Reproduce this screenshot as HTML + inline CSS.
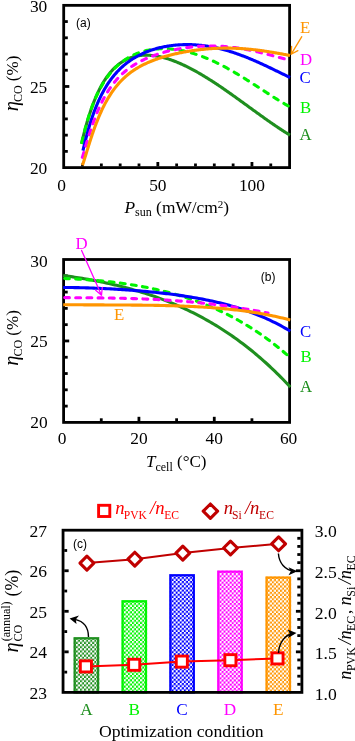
<!DOCTYPE html>
<html><head><meta charset="utf-8"><title>Figure</title>
<style>html,body{margin:0;padding:0;background:#fff}svg{display:block}</style></head>
<body><svg width="355" height="741" viewBox="0 0 355 741">
<rect width="355" height="741" fill="#fff"/>
<rect x="63.7" y="5.35" width="225.90000000000003" height="162.25" fill="none" stroke="#000" stroke-width="2.8"/>
<line x1="82.53" y1="166.39999999999998" x2="82.53" y2="163.49999999999997" stroke="#000" stroke-width="2.8"/>
<line x1="101.35" y1="166.39999999999998" x2="101.35" y2="163.49999999999997" stroke="#000" stroke-width="2.8"/>
<line x1="120.18" y1="166.39999999999998" x2="120.18" y2="163.49999999999997" stroke="#000" stroke-width="2.8"/>
<line x1="139.00" y1="166.39999999999998" x2="139.00" y2="163.49999999999997" stroke="#000" stroke-width="2.8"/>
<line x1="176.65" y1="166.39999999999998" x2="176.65" y2="163.49999999999997" stroke="#000" stroke-width="2.8"/>
<line x1="195.48" y1="166.39999999999998" x2="195.48" y2="163.49999999999997" stroke="#000" stroke-width="2.8"/>
<line x1="214.30" y1="166.39999999999998" x2="214.30" y2="163.49999999999997" stroke="#000" stroke-width="2.8"/>
<line x1="233.13" y1="166.39999999999998" x2="233.13" y2="163.49999999999997" stroke="#000" stroke-width="2.8"/>
<line x1="270.78" y1="166.39999999999998" x2="270.78" y2="163.49999999999997" stroke="#000" stroke-width="2.8"/>
<line x1="157.83" y1="166.39999999999998" x2="157.83" y2="161.99999999999997" stroke="#000" stroke-width="2.8"/>
<line x1="251.95" y1="166.39999999999998" x2="251.95" y2="161.99999999999997" stroke="#000" stroke-width="2.8"/>
<line x1="64.9" y1="151.38" x2="67.80000000000001" y2="151.38" stroke="#000" stroke-width="2.8"/>
<line x1="64.9" y1="135.15" x2="67.80000000000001" y2="135.15" stroke="#000" stroke-width="2.8"/>
<line x1="64.9" y1="118.92" x2="67.80000000000001" y2="118.92" stroke="#000" stroke-width="2.8"/>
<line x1="64.9" y1="102.70" x2="67.80000000000001" y2="102.70" stroke="#000" stroke-width="2.8"/>
<line x1="64.9" y1="70.25" x2="67.80000000000001" y2="70.25" stroke="#000" stroke-width="2.8"/>
<line x1="64.9" y1="54.02" x2="67.80000000000001" y2="54.02" stroke="#000" stroke-width="2.8"/>
<line x1="64.9" y1="37.80" x2="67.80000000000001" y2="37.80" stroke="#000" stroke-width="2.8"/>
<line x1="64.9" y1="21.57" x2="67.80000000000001" y2="21.57" stroke="#000" stroke-width="2.8"/>
<line x1="64.9" y1="86.47" x2="69.30000000000001" y2="86.47" stroke="#000" stroke-width="2.8"/>
<path d="M81.45,143.90 L81.76,142.56 L82.08,141.24 L82.39,139.93 L82.71,138.64 L83.02,137.36 L83.34,136.09 L83.65,134.84 L83.97,133.60 L84.28,132.38 L84.59,131.18 L84.91,129.99 L85.22,128.81 L85.54,127.65 L85.85,126.50 L86.17,125.37 L86.48,124.25 L86.79,123.15 L87.11,122.06 L87.42,120.99 L87.74,119.93 L88.05,118.89 L88.37,117.86 L88.68,116.84 L89.00,115.84 L89.31,114.85 L89.62,113.87 L89.94,112.91 L90.25,111.96 L90.57,111.03 L90.88,110.10 L91.20,109.19 L91.51,108.30 L91.83,107.41 L92.14,106.54 L92.45,105.68 L92.77,104.83 L93.08,103.99 L93.40,103.17 L93.71,102.36 L94.03,101.55 L94.34,100.76 L94.66,99.99 L94.97,99.22 L95.28,98.46 L95.60,97.71 L95.91,96.98 L96.23,96.25 L96.54,95.53 L96.86,94.83 L97.17,94.13 L97.48,93.45 L97.80,92.77 L98.11,92.11 L98.43,91.45 L98.74,90.80 L99.06,90.16 L99.37,89.53 L99.69,88.91 L100.00,88.30 L100.95,86.50 L101.91,84.77 L102.86,83.12 L103.82,81.54 L104.77,80.03 L105.73,78.58 L106.68,77.20 L107.64,75.88 L108.59,74.62 L109.55,73.41 L110.50,72.26 L111.46,71.16 L112.41,70.11 L113.37,69.11 L114.32,68.15 L115.28,67.24 L116.23,66.38 L117.19,65.56 L118.14,64.77 L119.10,64.03 L120.05,63.33 L121.01,62.66 L121.96,62.03 L122.91,61.43 L123.87,60.87 L124.82,60.33 L125.78,59.83 L126.73,59.36 L127.69,58.92 L128.64,58.51 L129.60,58.13 L130.55,57.77 L131.51,57.44 L132.46,57.14 L133.42,56.85 L134.37,56.60 L135.33,56.36 L136.28,56.15 L137.24,55.97 L138.19,55.80 L139.15,55.65 L140.10,55.53 L141.06,55.42 L142.01,55.33 L142.96,55.26 L143.92,55.22 L144.87,55.18 L145.83,55.17 L146.78,55.17 L147.74,55.19 L148.69,55.23 L149.65,55.28 L150.60,55.35 L151.56,55.43 L152.51,55.52 L153.47,55.64 L154.42,55.76 L155.38,55.90 L156.33,56.05 L157.29,56.22 L158.24,56.40 L159.20,56.59 L160.15,56.79 L161.11,57.01 L162.06,57.24 L163.02,57.48 L163.97,57.73 L164.92,57.99 L165.88,58.26 L166.83,58.55 L167.79,58.84 L168.74,59.15 L169.70,59.46 L170.65,59.79 L171.61,60.12 L172.56,60.47 L173.52,60.82 L174.47,61.18 L175.43,61.55 L176.38,61.93 L177.34,62.32 L178.29,62.72 L179.25,63.12 L180.20,63.54 L181.16,63.96 L182.11,64.39 L183.07,64.83 L184.02,65.27 L184.97,65.73 L185.93,66.19 L186.88,66.65 L187.84,67.13 L188.79,67.61 L189.75,68.10 L190.70,68.59 L191.66,69.09 L192.61,69.60 L193.57,70.11 L194.52,70.63 L195.48,71.16 L196.43,71.69 L197.39,72.23 L198.34,72.77 L199.30,73.32 L200.25,73.87 L201.21,74.43 L202.16,75.00 L203.12,75.57 L204.07,76.14 L205.03,76.72 L205.98,77.31 L206.93,77.90 L207.89,78.49 L208.84,79.09 L209.80,79.69 L210.75,80.30 L211.71,80.91 L212.66,81.53 L213.62,82.15 L214.57,82.77 L215.53,83.40 L216.48,84.03 L217.44,84.66 L218.39,85.30 L219.35,85.94 L220.30,86.59 L221.26,87.24 L222.21,87.89 L223.17,88.54 L224.12,89.20 L225.08,89.86 L226.03,90.52 L226.98,91.19 L227.94,91.85 L228.89,92.52 L229.85,93.19 L230.80,93.87 L231.76,94.54 L232.71,95.22 L233.67,95.90 L234.62,96.58 L235.58,97.27 L236.53,97.95 L237.49,98.64 L238.44,99.32 L239.40,100.01 L240.35,100.70 L241.31,101.39 L242.26,102.09 L243.22,102.78 L244.17,103.47 L245.13,104.16 L246.08,104.86 L247.04,105.55 L247.99,106.25 L248.94,106.94 L249.90,107.64 L250.85,108.33 L251.81,109.02 L252.76,109.72 L253.72,110.41 L254.67,111.10 L255.63,111.80 L256.58,112.49 L257.54,113.18 L258.49,113.87 L259.45,114.55 L260.40,115.24 L261.36,115.93 L262.31,116.61 L263.27,117.29 L264.22,117.97 L265.18,118.65 L266.13,119.32 L267.09,120.00 L268.04,120.67 L268.99,121.34 L269.95,122.00 L270.90,122.67 L271.86,123.33 L272.81,123.98 L273.77,124.64 L274.72,125.29 L275.68,125.94 L276.63,126.58 L277.59,127.22 L278.54,127.86 L279.50,128.49 L280.45,129.12 L281.41,129.74 L282.36,130.36 L283.32,130.97 L284.27,131.58 L285.23,132.19 L286.18,132.79 L287.14,133.38 L288.09,133.97 L289.05,134.56 L290.00,135.13" fill="none" stroke="#1f8f1f" stroke-width="3.1" stroke-linejoin="round"/>
<path d="M81.90,142.59 L82.21,141.19 L82.51,139.81 L82.82,138.46 L83.13,137.13 L83.43,135.82 L83.74,134.54 L84.05,133.28 L84.35,132.04 L84.66,130.81 L84.97,129.61 L85.27,128.43 L85.58,127.27 L85.89,126.13 L86.19,125.01 L86.50,123.90 L86.81,122.82 L87.12,121.75 L87.42,120.69 L87.73,119.66 L88.04,118.64 L88.34,117.64 L88.65,116.65 L88.96,115.68 L89.26,114.72 L89.57,113.78 L89.88,112.85 L90.18,111.94 L90.49,111.04 L90.80,110.15 L91.10,109.28 L91.41,108.42 L91.72,107.57 L92.02,106.74 L92.33,105.92 L92.64,105.11 L92.94,104.31 L93.25,103.53 L93.56,102.75 L93.86,101.99 L94.17,101.24 L94.48,100.49 L94.78,99.76 L95.09,99.04 L95.40,98.33 L95.71,97.63 L96.01,96.94 L96.32,96.26 L96.63,95.59 L96.93,94.93 L97.24,94.28 L97.55,93.63 L97.85,93.00 L98.16,92.37 L98.47,91.75 L98.77,91.15 L99.08,90.54 L99.39,89.95 L99.69,89.37 L100.00,88.79 L100.95,87.06 L101.89,85.40 L102.84,83.80 L103.78,82.27 L104.73,80.80 L105.67,79.39 L106.62,78.03 L107.57,76.72 L108.51,75.46 L109.46,74.25 L110.40,73.09 L111.35,71.97 L112.29,70.89 L113.24,69.86 L114.19,68.86 L115.13,67.89 L116.08,66.97 L117.02,66.08 L117.97,65.22 L118.91,64.39 L119.86,63.59 L120.81,62.83 L121.75,62.09 L122.70,61.38 L123.64,60.70 L124.59,60.04 L125.53,59.41 L126.48,58.80 L127.43,58.22 L128.37,57.65 L129.32,57.11 L130.26,56.60 L131.21,56.10 L132.15,55.62 L133.10,55.17 L134.05,54.73 L134.99,54.31 L135.94,53.91 L136.88,53.53 L137.83,53.16 L138.77,52.81 L139.72,52.48 L140.67,52.17 L141.61,51.87 L142.56,51.58 L143.50,51.31 L144.45,51.06 L145.39,50.82 L146.34,50.59 L147.29,50.38 L148.23,50.18 L149.18,50.00 L150.12,49.83 L151.07,49.67 L152.02,49.53 L152.96,49.39 L153.91,49.27 L154.85,49.17 L155.80,49.07 L156.74,48.99 L157.69,48.91 L158.64,48.85 L159.58,48.80 L160.53,48.77 L161.47,48.74 L162.42,48.72 L163.36,48.72 L164.31,48.72 L165.26,48.74 L166.20,48.76 L167.15,48.80 L168.09,48.85 L169.04,48.90 L169.98,48.97 L170.93,49.04 L171.88,49.13 L172.82,49.23 L173.77,49.33 L174.71,49.45 L175.66,49.57 L176.60,49.70 L177.55,49.85 L178.50,50.00 L179.44,50.16 L180.39,50.33 L181.33,50.50 L182.28,50.69 L183.22,50.89 L184.17,51.09 L185.12,51.30 L186.06,51.52 L187.01,51.75 L187.95,51.99 L188.90,52.24 L189.84,52.49 L190.79,52.75 L191.74,53.02 L192.68,53.30 L193.63,53.59 L194.57,53.88 L195.52,54.18 L196.46,54.49 L197.41,54.81 L198.36,55.13 L199.30,55.47 L200.25,55.81 L201.19,56.15 L202.14,56.51 L203.08,56.87 L204.03,57.23 L204.98,57.61 L205.92,57.99 L206.87,58.38 L207.81,58.77 L208.76,59.18 L209.70,59.58 L210.65,60.00 L211.60,60.42 L212.54,60.85 L213.49,61.28 L214.43,61.72 L215.38,62.17 L216.32,62.62 L217.27,63.08 L218.22,63.55 L219.16,64.02 L220.11,64.49 L221.05,64.97 L222.00,65.46 L222.94,65.95 L223.89,66.45 L224.84,66.96 L225.78,67.46 L226.73,67.98 L227.67,68.49 L228.62,69.02 L229.56,69.54 L230.51,70.08 L231.46,70.61 L232.40,71.16 L233.35,71.70 L234.29,72.25 L235.24,72.80 L236.18,73.36 L237.13,73.92 L238.08,74.49 L239.02,75.06 L239.97,75.63 L240.91,76.20 L241.86,76.78 L242.81,77.37 L243.75,77.95 L244.70,78.54 L245.64,79.13 L246.59,79.72 L247.53,80.32 L248.48,80.91 L249.43,81.51 L250.37,82.12 L251.32,82.72 L252.26,83.33 L253.21,83.93 L254.15,84.54 L255.10,85.15 L256.05,85.76 L256.99,86.37 L257.94,86.99 L258.88,87.60 L259.83,88.22 L260.77,88.83 L261.72,89.44 L262.67,90.06 L263.61,90.67 L264.56,91.29 L265.50,91.90 L266.45,92.51 L267.39,93.13 L268.34,93.74 L269.29,94.35 L270.23,94.96 L271.18,95.56 L272.12,96.17 L273.07,96.77 L274.01,97.37 L274.96,97.97 L275.91,98.57 L276.85,99.16 L277.80,99.75 L278.74,100.34 L279.69,100.92 L280.63,101.50 L281.58,102.08 L282.53,102.65 L283.47,103.22 L284.42,103.78 L285.36,104.34 L286.31,104.90 L287.25,105.45 L288.20,105.99" fill="none" stroke="#00f400" stroke-width="3.1" stroke-dasharray="5.000 6.755" stroke-linecap="round" stroke-linejoin="round"/>
<path d="M82.95,150.70 L83.24,149.44 L83.53,148.19 L83.82,146.96 L84.11,145.75 L84.39,144.54 L84.68,143.36 L84.97,142.19 L85.26,141.03 L85.55,139.89 L85.84,138.76 L86.13,137.64 L86.42,136.54 L86.71,135.45 L87.00,134.38 L87.28,133.32 L87.57,132.27 L87.86,131.24 L88.15,130.22 L88.44,129.22 L88.73,128.22 L89.02,127.24 L89.31,126.27 L89.60,125.32 L89.89,124.37 L90.17,123.44 L90.46,122.52 L90.75,121.61 L91.04,120.71 L91.33,119.83 L91.62,118.96 L91.91,118.09 L92.20,117.24 L92.49,116.40 L92.78,115.57 L93.06,114.75 L93.35,113.94 L93.64,113.14 L93.93,112.35 L94.22,111.57 L94.51,110.80 L94.80,110.04 L95.09,109.29 L95.38,108.55 L95.67,107.82 L95.95,107.10 L96.24,106.38 L96.53,105.68 L96.82,104.98 L97.11,104.30 L97.40,103.62 L97.69,102.95 L97.98,102.28 L98.27,101.63 L98.56,100.98 L98.84,100.34 L99.13,99.71 L99.42,99.09 L99.71,98.47 L100.00,97.87 L100.95,95.91 L101.91,94.03 L102.86,92.22 L103.82,90.47 L104.77,88.80 L105.73,87.19 L106.68,85.63 L107.64,84.14 L108.59,82.70 L109.55,81.31 L110.50,79.97 L111.46,78.68 L112.41,77.43 L113.37,76.23 L114.32,75.07 L115.28,73.95 L116.23,72.87 L117.19,71.82 L118.14,70.81 L119.10,69.84 L120.05,68.89 L121.01,67.98 L121.96,67.10 L122.91,66.24 L123.87,65.42 L124.82,64.62 L125.78,63.84 L126.73,63.09 L127.69,62.37 L128.64,61.67 L129.60,60.99 L130.55,60.33 L131.51,59.69 L132.46,59.07 L133.42,58.47 L134.37,57.89 L135.33,57.33 L136.28,56.78 L137.24,56.26 L138.19,55.75 L139.15,55.25 L140.10,54.77 L141.06,54.30 L142.01,53.85 L142.96,53.42 L143.92,52.99 L144.87,52.59 L145.83,52.19 L146.78,51.81 L147.74,51.44 L148.69,51.08 L149.65,50.73 L150.60,50.39 L151.56,50.07 L152.51,49.76 L153.47,49.46 L154.42,49.17 L155.38,48.88 L156.33,48.61 L157.29,48.35 L158.24,48.10 L159.20,47.86 L160.15,47.63 L161.11,47.41 L162.06,47.20 L163.02,46.99 L163.97,46.80 L164.92,46.61 L165.88,46.44 L166.83,46.27 L167.79,46.11 L168.74,45.96 L169.70,45.81 L170.65,45.68 L171.61,45.55 L172.56,45.43 L173.52,45.32 L174.47,45.22 L175.43,45.13 L176.38,45.04 L177.34,44.96 L178.29,44.89 L179.25,44.83 L180.20,44.77 L181.16,44.72 L182.11,44.68 L183.07,44.65 L184.02,44.62 L184.97,44.60 L185.93,44.59 L186.88,44.59 L187.84,44.59 L188.79,44.60 L189.75,44.62 L190.70,44.64 L191.66,44.67 L192.61,44.71 L193.57,44.76 L194.52,44.81 L195.48,44.87 L196.43,44.94 L197.39,45.01 L198.34,45.09 L199.30,45.18 L200.25,45.27 L201.21,45.37 L202.16,45.48 L203.12,45.59 L204.07,45.72 L205.03,45.84 L205.98,45.98 L206.93,46.12 L207.89,46.27 L208.84,46.42 L209.80,46.58 L210.75,46.75 L211.71,46.93 L212.66,47.11 L213.62,47.29 L214.57,47.49 L215.53,47.69 L216.48,47.89 L217.44,48.10 L218.39,48.32 L219.35,48.55 L220.30,48.78 L221.26,49.02 L222.21,49.26 L223.17,49.51 L224.12,49.76 L225.08,50.03 L226.03,50.29 L226.98,50.57 L227.94,50.85 L228.89,51.13 L229.85,51.42 L230.80,51.72 L231.76,52.02 L232.71,52.32 L233.67,52.64 L234.62,52.95 L235.58,53.28 L236.53,53.61 L237.49,53.94 L238.44,54.28 L239.40,54.62 L240.35,54.97 L241.31,55.33 L242.26,55.68 L243.22,56.05 L244.17,56.42 L245.13,56.79 L246.08,57.17 L247.04,57.55 L247.99,57.93 L248.94,58.32 L249.90,58.72 L250.85,59.12 L251.81,59.52 L252.76,59.93 L253.72,60.34 L254.67,60.75 L255.63,61.17 L256.58,61.59 L257.54,62.01 L258.49,62.44 L259.45,62.87 L260.40,63.30 L261.36,63.74 L262.31,64.18 L263.27,64.62 L264.22,65.06 L265.18,65.51 L266.13,65.96 L267.09,66.41 L268.04,66.86 L268.99,67.32 L269.95,67.77 L270.90,68.23 L271.86,68.69 L272.81,69.15 L273.77,69.61 L274.72,70.07 L275.68,70.54 L276.63,71.00 L277.59,71.47 L278.54,71.93 L279.50,72.40 L280.45,72.86 L281.41,73.33 L282.36,73.79 L283.32,74.26 L284.27,74.72 L285.23,75.18 L286.18,75.64 L287.14,76.10 L288.09,76.56 L289.05,77.02 L290.00,77.48" fill="none" stroke="#0000ff" stroke-width="3.1" stroke-linejoin="round"/>
<path d="M82.37,157.31 L82.67,156.34 L82.97,155.35 L83.27,154.36 L83.57,153.36 L83.86,152.36 L84.16,151.35 L84.46,150.34 L84.76,149.33 L85.06,148.32 L85.36,147.31 L85.66,146.30 L85.96,145.29 L86.25,144.29 L86.55,143.29 L86.85,142.30 L87.15,141.31 L87.45,140.32 L87.75,139.34 L88.05,138.37 L88.35,137.40 L88.65,136.44 L88.94,135.49 L89.24,134.54 L89.54,133.60 L89.84,132.67 L90.14,131.75 L90.44,130.84 L90.74,129.93 L91.04,129.03 L91.33,128.14 L91.63,127.26 L91.93,126.38 L92.23,125.52 L92.53,124.66 L92.83,123.81 L93.13,122.98 L93.43,122.15 L93.72,121.32 L94.02,120.51 L94.32,119.71 L94.62,118.91 L94.92,118.12 L95.22,117.34 L95.52,116.57 L95.82,115.81 L96.12,115.06 L96.41,114.31 L96.71,113.58 L97.01,112.85 L97.31,112.13 L97.61,111.41 L97.91,110.71 L98.21,110.02 L98.51,109.33 L98.80,108.65 L99.10,107.98 L99.40,107.31 L99.70,106.65 L100.00,106.01 L100.93,104.04 L101.85,102.15 L102.78,100.33 L103.70,98.57 L104.63,96.87 L105.55,95.24 L106.48,93.66 L107.41,92.14 L108.33,90.68 L109.26,89.26 L110.18,87.90 L111.11,86.59 L112.03,85.32 L112.96,84.09 L113.88,82.91 L114.81,81.77 L115.74,80.67 L116.66,79.60 L117.59,78.58 L118.51,77.58 L119.44,76.62 L120.36,75.69 L121.29,74.80 L122.22,73.93 L123.14,73.09 L124.07,72.27 L124.99,71.48 L125.92,70.72 L126.84,69.98 L127.77,69.26 L128.69,68.57 L129.62,67.89 L130.55,67.24 L131.47,66.60 L132.40,65.99 L133.32,65.39 L134.25,64.81 L135.17,64.24 L136.10,63.69 L137.03,63.16 L137.95,62.64 L138.88,62.13 L139.80,61.64 L140.73,61.16 L141.65,60.69 L142.58,60.24 L143.50,59.79 L144.43,59.36 L145.36,58.94 L146.28,58.53 L147.21,58.13 L148.13,57.74 L149.06,57.36 L149.98,56.99 L150.91,56.63 L151.84,56.27 L152.76,55.92 L153.69,55.59 L154.61,55.26 L155.54,54.93 L156.46,54.62 L157.39,54.31 L158.31,54.01 L159.24,53.72 L160.17,53.43 L161.09,53.15 L162.02,52.88 L162.94,52.61 L163.87,52.35 L164.79,52.09 L165.72,51.84 L166.65,51.60 L167.57,51.36 L168.50,51.13 L169.42,50.91 L170.35,50.69 L171.27,50.47 L172.20,50.26 L173.12,50.06 L174.05,49.86 L174.98,49.66 L175.90,49.47 L176.83,49.29 L177.75,49.11 L178.68,48.94 L179.60,48.77 L180.53,48.61 L181.46,48.45 L182.38,48.29 L183.31,48.15 L184.23,48.00 L185.16,47.86 L186.08,47.73 L187.01,47.60 L187.93,47.48 L188.86,47.36 L189.79,47.24 L190.71,47.14 L191.64,47.03 L192.56,46.93 L193.49,46.84 L194.41,46.75 L195.34,46.66 L196.27,46.58 L197.19,46.51 L198.12,46.44 L199.04,46.37 L199.97,46.31 L200.89,46.26 L201.82,46.20 L202.74,46.16 L203.67,46.12 L204.60,46.08 L205.52,46.05 L206.45,46.03 L207.37,46.00 L208.30,45.99 L209.22,45.98 L210.15,45.97 L211.08,45.97 L212.00,45.97 L212.93,45.98 L213.85,46.00 L214.78,46.01 L215.70,46.04 L216.63,46.07 L217.55,46.10 L218.48,46.14 L219.41,46.18 L220.33,46.23 L221.26,46.28 L222.18,46.34 L223.11,46.40 L224.03,46.47 L224.96,46.54 L225.89,46.62 L226.81,46.70 L227.74,46.79 L228.66,46.88 L229.59,46.98 L230.51,47.08 L231.44,47.18 L232.36,47.29 L233.29,47.41 L234.22,47.53 L235.14,47.65 L236.07,47.78 L236.99,47.91 L237.92,48.05 L238.84,48.19 L239.77,48.34 L240.70,48.49 L241.62,48.64 L242.55,48.80 L243.47,48.96 L244.40,49.13 L245.32,49.30 L246.25,49.48 L247.17,49.65 L248.10,49.84 L249.03,50.02 L249.95,50.21 L250.88,50.40 L251.80,50.60 L252.73,50.80 L253.65,51.00 L254.58,51.21 L255.51,51.41 L256.43,51.63 L257.36,51.84 L258.28,52.06 L259.21,52.28 L260.13,52.50 L261.06,52.73 L261.98,52.95 L262.91,53.18 L263.84,53.41 L264.76,53.65 L265.69,53.88 L266.61,54.12 L267.54,54.36 L268.46,54.60 L269.39,54.84 L270.32,55.08 L271.24,55.33 L272.17,55.57 L273.09,55.82 L274.02,56.06 L274.94,56.31 L275.87,56.56 L276.79,56.80 L277.72,57.05 L278.65,57.30 L279.57,57.54 L280.50,57.79 L281.42,58.03 L282.35,58.28 L283.27,58.52 L284.20,58.76" fill="none" stroke="#ff00ff" stroke-width="3.1" stroke-dasharray="5.000 6.736" stroke-linecap="round" stroke-linejoin="round"/>
<path d="M82.47,165.21 L82.77,164.34 L83.06,163.45 L83.36,162.55 L83.66,161.63 L83.96,160.71 L84.25,159.77 L84.55,158.83 L84.85,157.87 L85.14,156.92 L85.44,155.96 L85.74,154.99 L86.04,154.02 L86.33,153.06 L86.63,152.09 L86.93,151.12 L87.22,150.16 L87.52,149.19 L87.82,148.23 L88.12,147.27 L88.41,146.31 L88.71,145.36 L89.01,144.41 L89.30,143.47 L89.60,142.53 L89.90,141.60 L90.20,140.67 L90.49,139.75 L90.79,138.84 L91.09,137.93 L91.38,137.03 L91.68,136.14 L91.98,135.25 L92.27,134.37 L92.57,133.49 L92.87,132.63 L93.17,131.77 L93.46,130.92 L93.76,130.08 L94.06,129.24 L94.35,128.41 L94.65,127.59 L94.95,126.78 L95.25,125.97 L95.54,125.18 L95.84,124.39 L96.14,123.61 L96.43,122.83 L96.73,122.07 L97.03,121.31 L97.33,120.56 L97.62,119.82 L97.92,119.08 L98.22,118.35 L98.51,117.63 L98.81,116.92 L99.11,116.22 L99.41,115.52 L99.70,114.83 L100.00,114.15 L100.95,112.01 L101.91,109.94 L102.86,107.94 L103.82,106.02 L104.77,104.16 L105.73,102.37 L106.68,100.64 L107.64,98.98 L108.59,97.37 L109.55,95.82 L110.50,94.33 L111.46,92.89 L112.41,91.50 L113.37,90.16 L114.32,88.86 L115.28,87.62 L116.23,86.41 L117.19,85.25 L118.14,84.13 L119.10,83.05 L120.05,82.00 L121.01,80.99 L121.96,80.01 L122.91,79.07 L123.87,78.16 L124.82,77.28 L125.78,76.43 L126.73,75.60 L127.69,74.81 L128.64,74.04 L129.60,73.29 L130.55,72.56 L131.51,71.86 L132.46,71.19 L133.42,70.53 L134.37,69.89 L135.33,69.27 L136.28,68.67 L137.24,68.09 L138.19,67.52 L139.15,66.97 L140.10,66.44 L141.06,65.92 L142.01,65.42 L142.96,64.93 L143.92,64.45 L144.87,63.99 L145.83,63.54 L146.78,63.10 L147.74,62.67 L148.69,62.25 L149.65,61.84 L150.60,61.45 L151.56,61.06 L152.51,60.69 L153.47,60.32 L154.42,59.96 L155.38,59.61 L156.33,59.27 L157.29,58.93 L158.24,58.61 L159.20,58.29 L160.15,57.98 L161.11,57.67 L162.06,57.38 L163.02,57.09 L163.97,56.80 L164.92,56.52 L165.88,56.25 L166.83,55.98 L167.79,55.72 L168.74,55.47 L169.70,55.22 L170.65,54.98 L171.61,54.74 L172.56,54.50 L173.52,54.27 L174.47,54.05 L175.43,53.83 L176.38,53.62 L177.34,53.41 L178.29,53.20 L179.25,53.00 L180.20,52.81 L181.16,52.62 L182.11,52.43 L183.07,52.25 L184.02,52.07 L184.97,51.89 L185.93,51.72 L186.88,51.56 L187.84,51.39 L188.79,51.24 L189.75,51.08 L190.70,50.93 L191.66,50.78 L192.61,50.64 L193.57,50.50 L194.52,50.37 L195.48,50.24 L196.43,50.11 L197.39,49.99 L198.34,49.87 L199.30,49.76 L200.25,49.65 L201.21,49.54 L202.16,49.44 L203.12,49.34 L204.07,49.24 L205.03,49.15 L205.98,49.06 L206.93,48.98 L207.89,48.90 L208.84,48.82 L209.80,48.75 L210.75,48.69 L211.71,48.62 L212.66,48.56 L213.62,48.51 L214.57,48.45 L215.53,48.40 L216.48,48.36 L217.44,48.32 L218.39,48.28 L219.35,48.25 L220.30,48.22 L221.26,48.20 L222.21,48.18 L223.17,48.16 L224.12,48.15 L225.08,48.14 L226.03,48.14 L226.98,48.14 L227.94,48.14 L228.89,48.15 L229.85,48.16 L230.80,48.17 L231.76,48.19 L232.71,48.21 L233.67,48.24 L234.62,48.27 L235.58,48.31 L236.53,48.35 L237.49,48.39 L238.44,48.43 L239.40,48.48 L240.35,48.54 L241.31,48.60 L242.26,48.66 L243.22,48.72 L244.17,48.79 L245.13,48.87 L246.08,48.94 L247.04,49.02 L247.99,49.11 L248.94,49.19 L249.90,49.28 L250.85,49.38 L251.81,49.47 L252.76,49.58 L253.72,49.68 L254.67,49.79 L255.63,49.90 L256.58,50.01 L257.54,50.13 L258.49,50.25 L259.45,50.37 L260.40,50.50 L261.36,50.63 L262.31,50.76 L263.27,50.90 L264.22,51.03 L265.18,51.17 L266.13,51.32 L267.09,51.46 L268.04,51.61 L268.99,51.76 L269.95,51.91 L270.90,52.07 L271.86,52.22 L272.81,52.38 L273.77,52.54 L274.72,52.71 L275.68,52.87 L276.63,53.04 L277.59,53.20 L278.54,53.37 L279.50,53.54 L280.45,53.71 L281.41,53.88 L282.36,54.06 L283.32,54.23 L284.27,54.41 L285.23,54.58 L286.18,54.76 L287.14,54.93 L288.09,55.11 L289.05,55.29 L290.00,55.46" fill="none" stroke="#ff9500" stroke-width="3.1" stroke-linejoin="round"/>
<text x="47.3" y="12.1" font-size="17.4" text-anchor="end" fill="#000" font-family="Liberation Serif, serif" >30</text>
<text x="47.3" y="93.1" font-size="17.4" text-anchor="end" fill="#000" font-family="Liberation Serif, serif" >25</text>
<text x="47.3" y="173.7" font-size="17.4" text-anchor="end" fill="#000" font-family="Liberation Serif, serif" >20</text>
<text x="61.7" y="191" font-size="17.4" text-anchor="middle" fill="#000" font-family="Liberation Serif, serif" >0</text>
<text x="157.82500000000002" y="191" font-size="17.4" text-anchor="middle" fill="#000" font-family="Liberation Serif, serif" >50</text>
<text x="251.95000000000005" y="191" font-size="17.4" text-anchor="middle" fill="#000" font-family="Liberation Serif, serif" >100</text>
<text x="124.5" y="212.7" font-size="17.35" text-anchor="start" fill="#000" font-family="Liberation Serif, serif" ><tspan font-style="italic">P</tspan><tspan font-size="12" dy="3.5">sun</tspan><tspan dy="-3.5"> (mW/cm</tspan><tspan font-size="11" dy="-5">2</tspan><tspan dy="5">)</tspan></text>
<g transform="translate(18.3,83.5) rotate(-90)">
<text x="0" y="0" font-size="17" text-anchor="middle" fill="#000" font-family="Liberation Serif, serif" ><tspan font-style="italic" font-size="20.5">η</tspan><tspan font-size="12" dy="3.5" dx="-1">CO</tspan><tspan dy="-3.5"> (%)</tspan></text>
</g>
<text x="76.1" y="26.6" font-size="12" text-anchor="start" fill="#000" font-family="Liberation Sans, sans-serif" >(a)</text>
<text x="300" y="33.3" font-size="16.8" text-anchor="start" fill="#ff9500" font-family="Liberation Serif, serif" >E</text>
<text x="300" y="65.2" font-size="16.8" text-anchor="start" fill="#ff00ff" font-family="Liberation Serif, serif" >D</text>
<text x="299.5" y="83.2" font-size="16.8" text-anchor="start" fill="#0000ff" font-family="Liberation Serif, serif" >C</text>
<text x="300" y="112.6" font-size="16.8" text-anchor="start" fill="#00f400" font-family="Liberation Serif, serif" >B</text>
<text x="299.5" y="139.6" font-size="16.8" text-anchor="start" fill="#1f8f1f" font-family="Liberation Serif, serif" >A</text>
<path d="M301.8,36.7 L291.1,54.3 M291.6,46.3 L291.1,54.3 L297.9,50.6" fill="none" stroke="#ff9500" stroke-width="1.3" stroke-linecap="round" stroke-linejoin="round"/>
<rect x="63.6" y="259.5" width="226.00000000000003" height="162.89999999999998" fill="none" stroke="#000" stroke-width="2.8"/>
<line x1="101.27" y1="421.2" x2="101.27" y2="418.3" stroke="#000" stroke-width="2.8"/>
<line x1="176.60" y1="421.2" x2="176.60" y2="418.3" stroke="#000" stroke-width="2.8"/>
<line x1="251.93" y1="421.2" x2="251.93" y2="418.3" stroke="#000" stroke-width="2.8"/>
<line x1="138.93" y1="421.2" x2="138.93" y2="416.8" stroke="#000" stroke-width="2.8"/>
<line x1="214.27" y1="421.2" x2="214.27" y2="416.8" stroke="#000" stroke-width="2.8"/>
<line x1="64.8" y1="406.11" x2="67.7" y2="406.11" stroke="#000" stroke-width="2.8"/>
<line x1="64.8" y1="389.82" x2="67.7" y2="389.82" stroke="#000" stroke-width="2.8"/>
<line x1="64.8" y1="373.53" x2="67.7" y2="373.53" stroke="#000" stroke-width="2.8"/>
<line x1="64.8" y1="357.24" x2="67.7" y2="357.24" stroke="#000" stroke-width="2.8"/>
<line x1="64.8" y1="324.66" x2="67.7" y2="324.66" stroke="#000" stroke-width="2.8"/>
<line x1="64.8" y1="308.37" x2="67.7" y2="308.37" stroke="#000" stroke-width="2.8"/>
<line x1="64.8" y1="292.08" x2="67.7" y2="292.08" stroke="#000" stroke-width="2.8"/>
<line x1="64.8" y1="275.79" x2="67.7" y2="275.79" stroke="#000" stroke-width="2.8"/>
<line x1="64.8" y1="340.95" x2="69.2" y2="340.95" stroke="#000" stroke-width="2.8"/>
<path d="M63.20,275.50 L65.11,275.76 L67.02,276.03 L68.93,276.31 L70.83,276.59 L72.74,276.87 L74.65,277.17 L76.56,277.46 L78.47,277.77 L80.38,278.08 L82.28,278.40 L84.19,278.72 L86.10,279.05 L88.01,279.39 L89.92,279.73 L91.83,280.08 L93.73,280.44 L95.64,280.81 L97.55,281.18 L99.46,281.56 L101.37,281.95 L103.28,282.34 L105.18,282.75 L107.09,283.16 L109.00,283.58 L110.91,284.01 L112.82,284.45 L114.73,284.90 L116.64,285.35 L118.54,285.82 L120.45,286.29 L122.36,286.78 L124.27,287.27 L126.18,287.77 L128.09,288.28 L129.99,288.81 L131.90,289.34 L133.81,289.88 L135.72,290.43 L137.63,291.00 L139.54,291.57 L141.44,292.16 L143.35,292.75 L145.26,293.36 L147.17,293.98 L149.08,294.61 L150.99,295.25 L152.89,295.91 L154.80,296.57 L156.71,297.25 L158.62,297.94 L160.53,298.65 L162.44,299.36 L164.35,300.09 L166.25,300.83 L168.16,301.59 L170.07,302.36 L171.98,303.14 L173.89,303.94 L175.80,304.75 L177.70,305.58 L179.61,306.42 L181.52,307.27 L183.43,308.14 L185.34,309.02 L187.25,309.92 L189.15,310.84 L191.06,311.77 L192.97,312.72 L194.88,313.68 L196.79,314.66 L198.70,315.65 L200.61,316.66 L202.51,317.69 L204.42,318.74 L206.33,319.80 L208.24,320.88 L210.15,321.98 L212.06,323.10 L213.96,324.23 L215.87,325.38 L217.78,326.55 L219.69,327.74 L221.60,328.95 L223.51,330.18 L225.41,331.43 L227.32,332.69 L229.23,333.98 L231.14,335.29 L233.05,336.61 L234.96,337.96 L236.86,339.33 L238.77,340.72 L240.68,342.13 L242.59,343.56 L244.50,345.02 L246.41,346.49 L248.32,347.99 L250.22,349.51 L252.13,351.06 L254.04,352.62 L255.95,354.21 L257.86,355.82 L259.77,357.46 L261.67,359.12 L263.58,360.81 L265.49,362.51 L267.40,364.25 L269.31,366.01 L271.22,367.79 L273.12,369.60 L275.03,371.43 L276.94,373.29 L278.85,375.18 L280.76,377.09 L282.67,379.03 L284.57,381.00 L286.48,382.99 L288.39,385.02 L290.30,387.07" fill="none" stroke="#1f8f1f" stroke-width="3.1" stroke-linejoin="round"/>
<path d="M64.70,278.56 L66.60,278.63 L68.49,278.70 L70.39,278.78 L72.28,278.87 L74.18,278.96 L76.07,279.05 L77.97,279.15 L79.87,279.26 L81.76,279.38 L83.66,279.49 L85.55,279.62 L87.45,279.75 L89.35,279.89 L91.24,280.03 L93.14,280.18 L95.03,280.34 L96.93,280.50 L98.82,280.67 L100.72,280.85 L102.62,281.03 L104.51,281.22 L106.41,281.42 L108.30,281.62 L110.20,281.83 L112.09,282.05 L113.99,282.28 L115.89,282.51 L117.78,282.75 L119.68,283.00 L121.57,283.26 L123.47,283.52 L125.37,283.79 L127.26,284.07 L129.16,284.36 L131.05,284.66 L132.95,284.96 L134.84,285.28 L136.74,285.60 L138.64,285.93 L140.53,286.27 L142.43,286.62 L144.32,286.98 L146.22,287.35 L148.12,287.73 L150.01,288.12 L151.91,288.52 L153.80,288.93 L155.70,289.35 L157.59,289.78 L159.49,290.22 L161.39,290.67 L163.28,291.13 L165.18,291.60 L167.07,292.09 L168.97,292.58 L170.86,293.09 L172.76,293.61 L174.66,294.14 L176.55,294.68 L178.45,295.24 L180.34,295.81 L182.24,296.39 L184.14,296.98 L186.03,297.59 L187.93,298.21 L189.82,298.84 L191.72,299.49 L193.61,300.15 L195.51,300.82 L197.41,301.51 L199.30,302.22 L201.20,302.93 L203.09,303.67 L204.99,304.42 L206.88,305.18 L208.78,305.96 L210.68,306.76 L212.57,307.57 L214.47,308.40 L216.36,309.24 L218.26,310.10 L220.16,310.98 L222.05,311.87 L223.95,312.79 L225.84,313.72 L227.74,314.67 L229.63,315.63 L231.53,316.62 L233.43,317.62 L235.32,318.64 L237.22,319.69 L239.11,320.75 L241.01,321.83 L242.91,322.93 L244.80,324.05 L246.70,325.19 L248.59,326.35 L250.49,327.54 L252.38,328.74 L254.28,329.97 L256.18,331.22 L258.07,332.49 L259.97,333.78 L261.86,335.10 L263.76,336.43 L265.65,337.80 L267.55,339.18 L269.45,340.59 L271.34,342.03 L273.24,343.48 L275.13,344.97 L277.03,346.47 L278.93,348.01 L280.82,349.57 L282.72,351.15 L284.61,352.76 L286.51,354.40 L288.40,356.07 L290.30,357.76" fill="none" stroke="#00f400" stroke-width="3.1" stroke-dasharray="4.9 6.3" stroke-dashoffset="0.20" stroke-linecap="round" stroke-linejoin="round"/>
<path d="M63.20,287.48 L65.11,287.48 L67.02,287.49 L68.93,287.51 L70.83,287.53 L72.74,287.55 L74.65,287.58 L76.56,287.61 L78.47,287.65 L80.38,287.69 L82.28,287.74 L84.19,287.79 L86.10,287.85 L88.01,287.91 L89.92,287.97 L91.83,288.04 L93.73,288.11 L95.64,288.18 L97.55,288.26 L99.46,288.34 L101.37,288.43 L103.28,288.52 L105.18,288.61 L107.09,288.71 L109.00,288.81 L110.91,288.91 L112.82,289.02 L114.73,289.13 L116.64,289.25 L118.54,289.37 L120.45,289.49 L122.36,289.61 L124.27,289.74 L126.18,289.88 L128.09,290.01 L129.99,290.15 L131.90,290.29 L133.81,290.44 L135.72,290.59 L137.63,290.75 L139.54,290.91 L141.44,291.07 L143.35,291.24 L145.26,291.41 L147.17,291.59 L149.08,291.77 L150.99,291.95 L152.89,292.14 L154.80,292.33 L156.71,292.53 L158.62,292.74 L160.53,292.95 L162.44,293.16 L164.35,293.38 L166.25,293.60 L168.16,293.83 L170.07,294.07 L171.98,294.31 L173.89,294.56 L175.80,294.81 L177.70,295.08 L179.61,295.34 L181.52,295.62 L183.43,295.90 L185.34,296.19 L187.25,296.48 L189.15,296.79 L191.06,297.10 L192.97,297.42 L194.88,297.74 L196.79,298.08 L198.70,298.42 L200.61,298.78 L202.51,299.14 L204.42,299.51 L206.33,299.90 L208.24,300.29 L210.15,300.69 L212.06,301.10 L213.96,301.53 L215.87,301.96 L217.78,302.41 L219.69,302.86 L221.60,303.33 L223.51,303.81 L225.41,304.31 L227.32,304.82 L229.23,305.34 L231.14,305.87 L233.05,306.42 L234.96,306.98 L236.86,307.56 L238.77,308.15 L240.68,308.75 L242.59,309.38 L244.50,310.01 L246.41,310.67 L248.32,311.34 L250.22,312.03 L252.13,312.73 L254.04,313.46 L255.95,314.20 L257.86,314.96 L259.77,315.74 L261.67,316.54 L263.58,317.36 L265.49,318.20 L267.40,319.06 L269.31,319.94 L271.22,320.84 L273.12,321.77 L275.03,322.71 L276.94,323.68 L278.85,324.68 L280.76,325.70 L282.67,326.74 L284.57,327.81 L286.48,328.90 L288.39,330.02 L290.30,331.16" fill="none" stroke="#0000ff" stroke-width="3.1" stroke-linejoin="round"/>
<path d="M64.70,297.61 L66.41,297.62 L68.12,297.63 L69.83,297.65 L71.53,297.66 L73.24,297.67 L74.95,297.68 L76.66,297.69 L78.37,297.70 L80.08,297.71 L81.78,297.73 L83.49,297.74 L85.20,297.75 L86.91,297.77 L88.62,297.78 L90.33,297.79 L92.03,297.81 L93.74,297.83 L95.45,297.84 L97.16,297.86 L98.87,297.88 L100.58,297.90 L102.28,297.92 L103.99,297.95 L105.70,297.97 L107.41,298.00 L109.12,298.02 L110.83,298.05 L112.54,298.08 L114.24,298.11 L115.95,298.15 L117.66,298.18 L119.37,298.22 L121.08,298.26 L122.79,298.30 L124.49,298.34 L126.20,298.38 L127.91,298.43 L129.62,298.48 L131.33,298.53 L133.04,298.58 L134.74,298.63 L136.45,298.69 L138.16,298.75 L139.87,298.81 L141.58,298.87 L143.29,298.94 L144.99,299.01 L146.70,299.08 L148.41,299.15 L150.12,299.23 L151.83,299.31 L153.54,299.39 L155.25,299.47 L156.95,299.56 L158.66,299.65 L160.37,299.74 L162.08,299.84 L163.79,299.94 L165.50,300.04 L167.20,300.15 L168.91,300.26 L170.62,300.37 L172.33,300.48 L174.04,300.60 L175.75,300.72 L177.45,300.85 L179.16,300.98 L180.87,301.11 L182.58,301.24 L184.29,301.38 L186.00,301.52 L187.71,301.67 L189.41,301.82 L191.12,301.97 L192.83,302.13 L194.54,302.29 L196.25,302.45 L197.96,302.62 L199.66,302.79 L201.37,302.96 L203.08,303.14 L204.79,303.33 L206.50,303.51 L208.21,303.70 L209.91,303.90 L211.62,304.10 L213.33,304.30 L215.04,304.51 L216.75,304.72 L218.46,304.93 L220.16,305.15 L221.87,305.37 L223.58,305.60 L225.29,305.83 L227.00,306.07 L228.71,306.31 L230.42,306.55 L232.12,306.80 L233.83,307.05 L235.54,307.31 L237.25,307.57 L238.96,307.84 L240.67,308.11 L242.37,308.38 L244.08,308.66 L245.79,308.95 L247.50,309.23 L249.21,309.53 L250.92,309.82 L252.62,310.13 L254.33,310.43 L256.04,310.74 L257.75,311.06 L259.46,311.38 L261.17,311.70 L262.87,312.03 L264.58,312.36 L266.29,312.70 L268.00,313.04" fill="none" stroke="#ff00ff" stroke-width="3.1" stroke-dasharray="4.9 6.3" stroke-dashoffset="0.20" stroke-linecap="round" stroke-linejoin="round"/>
<path d="M63.20,304.69 L65.11,304.70 L67.02,304.72 L68.93,304.73 L70.83,304.75 L72.74,304.76 L74.65,304.77 L76.56,304.78 L78.47,304.80 L80.38,304.81 L82.28,304.82 L84.19,304.83 L86.10,304.84 L88.01,304.85 L89.92,304.86 L91.83,304.87 L93.73,304.87 L95.64,304.88 L97.55,304.89 L99.46,304.90 L101.37,304.91 L103.28,304.92 L105.18,304.93 L107.09,304.93 L109.00,304.94 L110.91,304.95 L112.82,304.96 L114.73,304.97 L116.64,304.98 L118.54,304.99 L120.45,305.00 L122.36,305.01 L124.27,305.02 L126.18,305.04 L128.09,305.05 L129.99,305.06 L131.90,305.08 L133.81,305.09 L135.72,305.11 L137.63,305.13 L139.54,305.15 L141.44,305.17 L143.35,305.19 L145.26,305.21 L147.17,305.24 L149.08,305.26 L150.99,305.29 L152.89,305.32 L154.80,305.35 L156.71,305.39 L158.62,305.42 L160.53,305.46 L162.44,305.50 L164.35,305.54 L166.25,305.59 L168.16,305.64 L170.07,305.69 L171.98,305.74 L173.89,305.80 L175.80,305.86 L177.70,305.92 L179.61,305.98 L181.52,306.05 L183.43,306.12 L185.34,306.20 L187.25,306.28 L189.15,306.36 L191.06,306.45 L192.97,306.54 L194.88,306.63 L196.79,306.73 L198.70,306.84 L200.61,306.95 L202.51,307.06 L204.42,307.18 L206.33,307.30 L208.24,307.43 L210.15,307.56 L212.06,307.70 L213.96,307.85 L215.87,308.00 L217.78,308.15 L219.69,308.32 L221.60,308.48 L223.51,308.66 L225.41,308.84 L227.32,309.03 L229.23,309.22 L231.14,309.42 L233.05,309.63 L234.96,309.85 L236.86,310.07 L238.77,310.30 L240.68,310.54 L242.59,310.79 L244.50,311.04 L246.41,311.30 L248.32,311.57 L250.22,311.85 L252.13,312.14 L254.04,312.44 L255.95,312.75 L257.86,313.06 L259.77,313.39 L261.67,313.72 L263.58,314.07 L265.49,314.42 L267.40,314.79 L269.31,315.16 L271.22,315.55 L273.12,315.95 L275.03,316.35 L276.94,316.77 L278.85,317.20 L280.76,317.65 L282.67,318.10 L284.57,318.57 L286.48,319.05 L288.39,319.54 L290.30,320.04" fill="none" stroke="#ff9500" stroke-width="3.1" stroke-linejoin="round"/>
<text x="47.6" y="266.8" font-size="17.4" text-anchor="end" fill="#000" font-family="Liberation Serif, serif" >30</text>
<text x="47.6" y="347.3" font-size="17.4" text-anchor="end" fill="#000" font-family="Liberation Serif, serif" >25</text>
<text x="47.6" y="427.8" font-size="17.4" text-anchor="end" fill="#000" font-family="Liberation Serif, serif" >20</text>
<text x="62" y="444.3" font-size="17.4" text-anchor="middle" fill="#000" font-family="Liberation Serif, serif" >0</text>
<text x="138.93333333333334" y="444.3" font-size="17.4" text-anchor="middle" fill="#000" font-family="Liberation Serif, serif" >20</text>
<text x="214.26666666666668" y="444.3" font-size="17.4" text-anchor="middle" fill="#000" font-family="Liberation Serif, serif" >40</text>
<text x="288.6" y="444.3" font-size="17.4" text-anchor="middle" fill="#000" font-family="Liberation Serif, serif" >60</text>
<text x="146" y="467.3" font-size="17" text-anchor="start" fill="#000" font-family="Liberation Serif, serif" ><tspan font-style="italic">T</tspan><tspan font-size="12" dy="3.5">cell</tspan><tspan dy="-3.5"> (°C)</tspan></text>
<g transform="translate(18.3,338) rotate(-90)">
<text x="0" y="0" font-size="17" text-anchor="middle" fill="#000" font-family="Liberation Serif, serif" ><tspan font-style="italic" font-size="20.5">η</tspan><tspan font-size="12" dy="3.5" dx="-1">CO</tspan><tspan dy="-3.5"> (%)</tspan></text>
</g>
<text x="260.8" y="280.6" font-size="12" text-anchor="start" fill="#000" font-family="Liberation Sans, sans-serif" >(b)</text>
<text x="300" y="336.8" font-size="16.8" text-anchor="start" fill="#0000ff" font-family="Liberation Serif, serif" >C</text>
<text x="300.5" y="362.2" font-size="16.8" text-anchor="start" fill="#00f400" font-family="Liberation Serif, serif" >B</text>
<text x="300" y="392.1" font-size="16.8" text-anchor="start" fill="#1f8f1f" font-family="Liberation Serif, serif" >A</text>
<text x="114" y="319.8" font-size="16.8" text-anchor="start" fill="#ff9500" font-family="Liberation Serif, serif" >E</text>
<text x="75.5" y="248.5" font-size="16.8" text-anchor="start" fill="#ff00ff" font-family="Liberation Serif, serif" >D</text>
<path d="M81.6,250.4 L101.5,295.2 M95.7,290.2 L101.5,295.2 L102.3,287.4" fill="none" stroke="#ff00ff" stroke-width="1.3" stroke-linecap="round" stroke-linejoin="round"/>
<defs>
<pattern id="pA" width="4.08" height="4.25" patternUnits="userSpaceOnUse" patternTransform="translate(75.88,639.74)"><rect width="4.08" height="4.25" fill="#1f8f1f"/><rect x="-0.055" y="-0.012" width="2.15" height="2.15" rx="0.3" fill="#fff"/><rect x="1.985" y="2.112" width="2.15" height="2.15" rx="0.3" fill="#fff"/></pattern>
<pattern id="pB" width="4.08" height="4.25" patternUnits="userSpaceOnUse" patternTransform="translate(123.78,602.74)"><rect width="4.08" height="4.25" fill="#00f400"/><rect x="-0.055" y="-0.012" width="2.15" height="2.15" rx="0.3" fill="#fff"/><rect x="1.985" y="2.112" width="2.15" height="2.15" rx="0.3" fill="#fff"/></pattern>
<pattern id="pC" width="4.08" height="4.25" patternUnits="userSpaceOnUse" patternTransform="translate(171.58,576.74)"><rect width="4.08" height="4.25" fill="#0000ff"/><rect x="-0.055" y="-0.012" width="2.15" height="2.15" rx="0.3" fill="#fff"/><rect x="1.985" y="2.112" width="2.15" height="2.15" rx="0.3" fill="#fff"/></pattern>
<pattern id="pD" width="4.08" height="4.25" patternUnits="userSpaceOnUse" patternTransform="translate(219.48,573.14)"><rect width="4.08" height="4.25" fill="#ff00ff"/><rect x="-0.055" y="-0.012" width="2.15" height="2.15" rx="0.3" fill="#fff"/><rect x="1.985" y="2.112" width="2.15" height="2.15" rx="0.3" fill="#fff"/></pattern>
<pattern id="pE" width="4.08" height="4.25" patternUnits="userSpaceOnUse" patternTransform="translate(267.78,579.04)"><rect width="4.08" height="4.25" fill="#ff9500"/><rect x="-0.055" y="-0.012" width="2.15" height="2.15" rx="0.3" fill="#fff"/><rect x="1.985" y="2.112" width="2.15" height="2.15" rx="0.3" fill="#fff"/></pattern>
</defs>
<rect x="73.60" y="637.20" width="25.6" height="56.20" fill="url(#pA)"/>
<rect x="74.70" y="638.30" width="23.400000000000002" height="54.10" fill="none" stroke="#1f8f1f" stroke-width="2.2"/>
<rect x="121.50" y="600.20" width="25.6" height="93.20" fill="url(#pB)"/>
<rect x="122.60" y="601.30" width="23.400000000000002" height="91.10" fill="none" stroke="#00f400" stroke-width="2.2"/>
<rect x="169.30" y="574.20" width="25.6" height="119.20" fill="url(#pC)"/>
<rect x="170.40" y="575.30" width="23.400000000000002" height="117.10" fill="none" stroke="#0000ff" stroke-width="2.2"/>
<rect x="217.20" y="570.60" width="25.6" height="122.80" fill="url(#pD)"/>
<rect x="218.30" y="571.70" width="23.400000000000002" height="120.70" fill="none" stroke="#ff00ff" stroke-width="2.2"/>
<rect x="265.50" y="576.50" width="25.6" height="116.90" fill="url(#pE)"/>
<rect x="266.60" y="577.60" width="23.400000000000002" height="114.80" fill="none" stroke="#ff9500" stroke-width="2.2"/>
<rect x="63.05" y="530.2" width="238.84999999999997" height="162.19999999999993" fill="none" stroke="#000" stroke-width="2.8"/>
<line x1="64.25" y1="672.12" x2="67.15" y2="672.12" stroke="#000" stroke-width="2.8"/>
<line x1="64.25" y1="631.58" x2="67.15" y2="631.58" stroke="#000" stroke-width="2.8"/>
<line x1="64.25" y1="591.02" x2="67.15" y2="591.02" stroke="#000" stroke-width="2.8"/>
<line x1="64.25" y1="550.48" x2="67.15" y2="550.48" stroke="#000" stroke-width="2.8"/>
<line x1="64.25" y1="651.85" x2="68.65" y2="651.85" stroke="#000" stroke-width="2.8"/>
<line x1="64.25" y1="611.30" x2="68.65" y2="611.30" stroke="#000" stroke-width="2.8"/>
<line x1="64.25" y1="570.75" x2="68.65" y2="570.75" stroke="#000" stroke-width="2.8"/>
<line x1="300.7" y1="684.29" x2="297.3" y2="684.29" stroke="#000" stroke-width="2.8"/>
<line x1="300.7" y1="676.18" x2="297.3" y2="676.18" stroke="#000" stroke-width="2.8"/>
<line x1="300.7" y1="668.07" x2="297.3" y2="668.07" stroke="#000" stroke-width="2.8"/>
<line x1="300.7" y1="659.96" x2="297.3" y2="659.96" stroke="#000" stroke-width="2.8"/>
<line x1="300.7" y1="643.74" x2="297.3" y2="643.74" stroke="#000" stroke-width="2.8"/>
<line x1="300.7" y1="635.63" x2="297.3" y2="635.63" stroke="#000" stroke-width="2.8"/>
<line x1="300.7" y1="627.52" x2="297.3" y2="627.52" stroke="#000" stroke-width="2.8"/>
<line x1="300.7" y1="619.41" x2="297.3" y2="619.41" stroke="#000" stroke-width="2.8"/>
<line x1="300.7" y1="603.19" x2="297.3" y2="603.19" stroke="#000" stroke-width="2.8"/>
<line x1="300.7" y1="595.08" x2="297.3" y2="595.08" stroke="#000" stroke-width="2.8"/>
<line x1="300.7" y1="586.97" x2="297.3" y2="586.97" stroke="#000" stroke-width="2.8"/>
<line x1="300.7" y1="578.86" x2="297.3" y2="578.86" stroke="#000" stroke-width="2.8"/>
<line x1="300.7" y1="562.64" x2="297.3" y2="562.64" stroke="#000" stroke-width="2.8"/>
<line x1="300.7" y1="554.53" x2="297.3" y2="554.53" stroke="#000" stroke-width="2.8"/>
<line x1="300.7" y1="546.42" x2="297.3" y2="546.42" stroke="#000" stroke-width="2.8"/>
<line x1="300.7" y1="538.31" x2="297.3" y2="538.31" stroke="#000" stroke-width="2.8"/>
<line x1="300.7" y1="651.85" x2="295.9" y2="651.85" stroke="#000" stroke-width="2.8"/>
<line x1="300.7" y1="611.30" x2="295.9" y2="611.30" stroke="#000" stroke-width="2.8"/>
<line x1="300.7" y1="570.75" x2="295.9" y2="570.75" stroke="#000" stroke-width="2.8"/>
<path d="M86.90,563.10 L134.80,559.20 L182.80,553.10 L230.50,548.00 L278.60,543.80" fill="none" stroke="#c00000" stroke-width="2"/>
<path d="M85.90,666.40 L134.20,664.80 L181.80,661.60 L230.40,660.20 L277.50,658.40" fill="none" stroke="#ff0000" stroke-width="2"/>
<path d="M79.95,563.10 L86.90,556.15 L93.85,563.10 L86.90,570.05 Z" fill="#fff" stroke="#c00000" stroke-width="3.1" stroke-linejoin="round"/>
<path d="M127.85,559.20 L134.80,552.25 L141.75,559.20 L134.80,566.15 Z" fill="#fff" stroke="#c00000" stroke-width="3.1" stroke-linejoin="round"/>
<path d="M175.85,553.10 L182.80,546.15 L189.75,553.10 L182.80,560.05 Z" fill="#fff" stroke="#c00000" stroke-width="3.1" stroke-linejoin="round"/>
<path d="M223.55,548.00 L230.50,541.05 L237.45,548.00 L230.50,554.95 Z" fill="#fff" stroke="#c00000" stroke-width="3.1" stroke-linejoin="round"/>
<path d="M271.65,543.80 L278.60,536.85 L285.55,543.80 L278.60,550.75 Z" fill="#fff" stroke="#c00000" stroke-width="3.1" stroke-linejoin="round"/>
<rect x="80.35" y="660.85" width="11.1" height="11.1" fill="#fff" stroke="#ff0000" stroke-width="2.9"/>
<rect x="128.65" y="659.25" width="11.1" height="11.1" fill="#fff" stroke="#ff0000" stroke-width="2.9"/>
<rect x="176.25" y="656.05" width="11.1" height="11.1" fill="#fff" stroke="#ff0000" stroke-width="2.9"/>
<rect x="224.85" y="654.65" width="11.1" height="11.1" fill="#fff" stroke="#ff0000" stroke-width="2.9"/>
<rect x="271.95" y="652.85" width="11.1" height="11.1" fill="#fff" stroke="#ff0000" stroke-width="2.9"/>
<text x="46.9" y="698.8" font-size="17.5" text-anchor="end" fill="#000" font-family="Liberation Serif, serif" >23</text>
<text x="46.9" y="658.25" font-size="17.5" text-anchor="end" fill="#000" font-family="Liberation Serif, serif" >24</text>
<text x="46.9" y="617.6999999999999" font-size="17.5" text-anchor="end" fill="#000" font-family="Liberation Serif, serif" >25</text>
<text x="46.9" y="577.15" font-size="17.5" text-anchor="end" fill="#000" font-family="Liberation Serif, serif" >26</text>
<text x="46.9" y="536.6" font-size="17.5" text-anchor="end" fill="#000" font-family="Liberation Serif, serif" >27</text>
<text x="314.7" y="699.6" font-size="17.6" text-anchor="start" fill="#000" font-family="Liberation Serif, serif" >1.0</text>
<text x="314.7" y="659.0500000000001" font-size="17.6" text-anchor="start" fill="#000" font-family="Liberation Serif, serif" >1.5</text>
<text x="314.7" y="618.5" font-size="17.6" text-anchor="start" fill="#000" font-family="Liberation Serif, serif" >2.0</text>
<text x="314.7" y="577.95" font-size="17.6" text-anchor="start" fill="#000" font-family="Liberation Serif, serif" >2.5</text>
<text x="314.7" y="537.4000000000001" font-size="17.6" text-anchor="start" fill="#000" font-family="Liberation Serif, serif" >3.0</text>
<text x="86.4" y="714.6" font-size="17.2" text-anchor="middle" fill="#1f8f1f" font-family="Liberation Serif, serif" >A</text>
<text x="134.3" y="714.6" font-size="17.2" text-anchor="middle" fill="#00f400" font-family="Liberation Serif, serif" >B</text>
<text x="182.1" y="714.6" font-size="17.2" text-anchor="middle" fill="#0000ff" font-family="Liberation Serif, serif" >C</text>
<text x="230.0" y="714.6" font-size="17.2" text-anchor="middle" fill="#ff00ff" font-family="Liberation Serif, serif" >D</text>
<text x="278.3" y="714.6" font-size="17.2" text-anchor="middle" fill="#ff9500" font-family="Liberation Serif, serif" >E</text>
<text x="181.3" y="737.4" font-size="17.7" text-anchor="middle" fill="#000" font-family="Liberation Serif, serif" >Optimization condition</text>
<text x="73" y="547.8" font-size="12" text-anchor="start" fill="#000" font-family="Liberation Sans, sans-serif" >(c)</text>
<rect x="98.60" y="505.30" width="11.2" height="11.2" fill="#fff" stroke="#ff0000" stroke-width="2.9"/>
<text x="115.3" y="514.3" font-size="17" text-anchor="start" fill="#ff0000" font-family="Liberation Serif, serif" ><tspan font-style="italic" font-size="18.6">n</tspan><tspan font-size="11.6" dy="4.5" dx="-0.9">PVK</tspan><tspan dy="-4.5" dx="3.2" font-style="italic" font-size="19">/</tspan><tspan font-style="italic" font-size="18.6" dx="-0.2">n</tspan><tspan font-size="11.6" dy="4.5" dx="-0.3">EC</tspan></text>
<path d="M203.20,511.20 L210.40,504.00 L217.60,511.20 L210.40,518.40 Z" fill="#fff" stroke="#c00000" stroke-width="3.1" stroke-linejoin="round"/>
<text x="223.7" y="514.3" font-size="17" text-anchor="start" fill="#c00000" font-family="Liberation Serif, serif" ><tspan font-style="italic" font-size="18.6">n</tspan><tspan font-size="11.6" dy="4.5" dx="-0.9">Si</tspan><tspan dy="-4.5" dx="3.2" font-style="italic" font-size="19">/</tspan><tspan font-style="italic" font-size="18.6" dx="-0.2">n</tspan><tspan font-size="11.6" dy="4.5" dx="-0.3">EC</tspan></text>
<g transform="translate(18.3,652.5) rotate(-90)">
<text x="0" y="0" font-size="17" text-anchor="start" fill="#000" font-family="Liberation Serif, serif" ><tspan font-style="italic" font-size="20.5">η</tspan><tspan font-size="12" dy="4" dx="0.8">CO</tspan><tspan font-size="12" dy="-12.5" dx="-16.5">(annual)</tspan><tspan dy="8.5" dx="0.5" font-size="17.8"> (%)</tspan></text>
</g>
<g transform="translate(350.6,617.5) rotate(-90)">
<text x="0" y="0" font-size="17.2" text-anchor="middle" fill="#000" font-family="Liberation Serif, serif" ><tspan font-style="italic" font-size="18.3">n</tspan><tspan font-size="11.9" dy="4" dx="-0.5">PVK</tspan><tspan dy="-4" dx="2.6" font-style="italic" font-size="18.8">/</tspan><tspan font-style="italic" font-size="18.3" dx="-0.2">n</tspan><tspan font-size="11.9" dy="4" dx="-0.5">EC</tspan><tspan dy="-4" dx="1.8">, </tspan><tspan font-style="italic" font-size="18.3">n</tspan><tspan font-size="11.9" dy="4" dx="-0.5">Si</tspan><tspan dy="-4" dx="2.6" font-style="italic" font-size="18.8">/</tspan><tspan font-style="italic" font-size="18.3" dx="-0.2">n</tspan><tspan font-size="11.9" dy="4" dx="-0.5">EC</tspan></text>
</g>
<path d="M88.5,636.9 C88.4,628 84.5,621.5 75,619.4" fill="none" stroke="#000" stroke-width="1.4"/>
<path d="M69.6,618.6 L79,615.4 L75.8,619.6 L76.5,624.1 Z" fill="#000"/>
<path d="M278.4,553.5 C279,563 285,570 294,571" fill="none" stroke="#000" stroke-width="1.4"/>
<path d="M297.5,571.3 L288.5,567.3 L290.8,571.3 L288.5,575.3 Z" fill="#000"/>
<path d="M278.5,653 C279,643 285,634.5 293,633.5" fill="none" stroke="#000" stroke-width="1.4"/>
<path d="M296.5,633 L287.5,629.5 L289.8,633.6 L288,638 Z" fill="#000"/>
</svg></body></html>
